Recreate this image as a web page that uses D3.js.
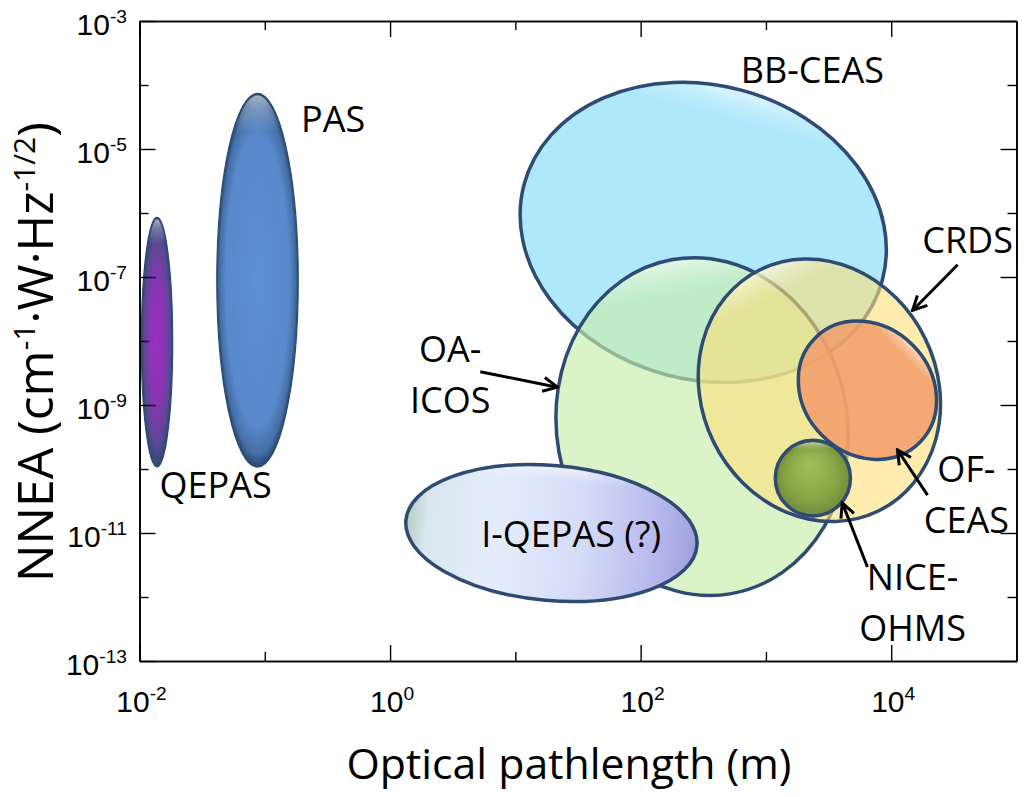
<!DOCTYPE html>
<html>
<head>
<meta charset="utf-8">
<script src="https://cdn.jsdelivr.net/npm/d3@7"></script>
<style>
body { margin: 0; background: #fff; }
svg { display: block; }
</style>
</head>
<body>
<svg id="chart" width="1024" height="797"></svg>
<script>
// techniques, back to front
var techniques = ["BB-CEAS", "OA-ICOS", "CRDS", "OF-CEAS", "NICE-OHMS", "I-QEPAS", "QEPAS", "PAS"];
// centre of each region: optical pathlength (m) and NNEA
var centerPath = [316, 309, 2670, 6460, 2370, 19.4, 0.0138, 0.0875];
var centerNNEA = [5.0e-7, 4.6e-10, 1.7e-9, 1.7e-9, 7.2e-11, 1.0e-11, 9.6e-9, 8.9e-8];
// half extent of each region, in decades
var halfDecadesPath = [1.48, 1.16, 0.94, 0.59, 0.30, 1.166, 0.125, 0.325];
var halfDecadesNNEA = [2.30, 2.65, 2.10, 1.00, 0.59, 1.055, 1.95, 2.92];
var tilt = [15, -10, -26, 45, 0, 5, 0, 0];

var xMajorTicks = [1e-2, 1e0, 1e2, 1e4];
var xMinorTicks = [1e-1, 1e1, 1e3];
var yMajorTicks = [1e-3, 1e-5, 1e-7, 1e-9, 1e-11, 1e-13];
var yMinorTicks = [1e-4, 1e-6, 1e-8, 1e-10, 1e-12];

// annotation text and anchor (data coordinates)
var labelLines = [["PAS"], ["QEPAS"], ["BB-CEAS"], ["CRDS"], ["OA-", "ICOS"], ["OF-", "CEAS"], ["NICE-", "OHMS"], ["I-QEPAS (?)"]];
var labelPath = [0.351, 0.0405, 2350, 40700, 3.02, 39800, 14800, 27.9];
var labelNNEA = [1.86e-5, 3.55e-11, 1.07e-4, 2.37e-7, 4.68e-9, 6.3e-11, 1.29e-12, 6.0e-12];

// arrows: from label to region
var arrowFromPath = [33900, 5.25, 19500, 6460];
var arrowFromNNEA = [1.55e-7, 3.3e-9, 3.9e-11, 2.95e-12];
var arrowToPath = [14800, 21.6, 11200, 4070];
var arrowToNNEA = [3.0e-8, 1.9e-9, 2.0e-10, 2.95e-11];

var W = 1024, H = 797;
var plot = {left: 139.5, right: 1016.5, top: 21, bottom: 661};

var x = d3.scaleLog().domain([1e-2, 1e5]).range([plot.left, plot.right]);
var y = d3.scaleLog().domain([1e-13, 1e-3]).range([plot.bottom, plot.top]);

var svg = d3.select("#chart");
var defs = svg.append("defs");

function radial(id, stops, fx, fy) {
    var g = defs.append("radialGradient").attr("id", id)
        .attr("cx", "50%").attr("cy", "50%").attr("r", "50%")
        .attr("fx", fx || "50%").attr("fy", fy || "50%");
    stops.forEach(function(s) {
        g.append("stop").attr("offset", s[0]).attr("stop-color", s[1]);
    });
}
function linear(id, stops, vertical) {
    var g = defs.append("linearGradient").attr("id", id)
        .attr("x1", 0).attr("y1", 0)
        .attr("x2", vertical ? 0 : 1).attr("y2", vertical ? 1 : 0);
    stops.forEach(function(s) {
        g.append("stop").attr("offset", s[0]).attr("stop-color", s[1])
            .attr("stop-opacity", s[2] === undefined ? 1 : s[2]);
    });
}

radial("pasGrad", [[0, "#5d90d4"], [0.78, "#5889cb"], [0.93, "#456fa6"], [1, "#27476e"]]);
radial("qepasGrad", [[0, "#9a2fc4"], [0.5, "#8735b2"], [0.82, "#5c4894"], [1, "#2a4a74"]]);
radial("niceGrad", [[0, "#a3bf5e"], [0.65, "#8aa747"], [1, "#718d3a"]], "45%", "30%");
linear("iqGrad", [[0, "#b3cbc0"], [0.07, "#d8e6ee"], [0.3, "#e5edfc"], [0.6, "#d5dcf8"], [0.85, "#b8baed"], [1, "#9ea0de"]]);
linear("shine", [[0, "#fff", 0.55], [0.04, "#fff", 0.25], [0.1, "#fff", 0]], true);

var style = {
    "BB-CEAS":   {fill: "#a4e5fb", opacity: 0.88, stroke: "#2e4c73", width: 3.5},
    "OA-ICOS":   {fill: "#c6eeaa", opacity: 0.65, stroke: "#2e4c73", width: 3.5},
    "CRDS":      {fill: "#fde07a", opacity: 0.6,  stroke: "#2e4c73", width: 3.5},
    "OF-CEAS":   {fill: "#f29c68", opacity: 0.85, stroke: "#2e4c73", width: 3.5},
    "NICE-OHMS": {fill: "url(#niceGrad)", opacity: 1, stroke: "#2e4c73", width: 3.5},
    "I-QEPAS":   {fill: "url(#iqGrad)", opacity: 1, stroke: "#2e4c73", width: 3.5},
    "QEPAS":     {fill: "url(#qepasGrad)", opacity: 1, stroke: "#2a4a72", width: 1.2},
    "PAS":       {fill: "url(#pasGrad)", opacity: 1, stroke: "#2a4a72", width: 1.2}
};

// regions
var regions = svg.append("g").attr("class", "regions");
techniques.forEach(function(name, i) {
    var cx = x(centerPath[i]);
    var cy = y(centerNNEA[i]);
    var rx = x(centerPath[i] * Math.pow(10, halfDecadesPath[i])) - cx;
    var ry = cy - y(centerNNEA[i] * Math.pow(10, halfDecadesNNEA[i]));
    var s = style[name];
    var g = regions.append("g")
        .attr("transform", "translate(" + cx + "," + cy + ") rotate(" + tilt[i] + ")");
    g.append("ellipse")
        .attr("rx", rx).attr("ry", ry)
        .attr("fill", s.fill).attr("fill-opacity", s.opacity);
    g.append("ellipse")
        .attr("rx", rx - 2).attr("ry", ry - 2)
        .attr("fill", "url(#shine)");
    g.append("ellipse")
        .attr("rx", rx).attr("ry", ry)
        .attr("fill", "none")
        .attr("stroke", s.stroke).attr("stroke-width", s.width);
});

// axes: ticks point inwards on all four sides
function frameAxis(axis, transform) {
    svg.append("g").attr("transform", transform)
        .call(axis)
        .call(function(g) {
            g.selectAll("path.domain").attr("stroke", "#000").attr("stroke-width", 1.6);
            g.selectAll("line").attr("stroke", "#000").attr("stroke-width", 1.4);
        });
}
frameAxis(d3.axisBottom(x).tickValues(xMajorTicks).tickSizeInner(-16).tickSizeOuter(0).tickFormat(""), "translate(0," + plot.bottom + ")");
frameAxis(d3.axisBottom(x).tickValues(xMinorTicks).tickSizeInner(-9).tickSizeOuter(0).tickFormat(""), "translate(0," + plot.bottom + ")");
frameAxis(d3.axisTop(x).tickValues(xMajorTicks).tickSizeInner(-16).tickSizeOuter(0).tickFormat(""), "translate(0," + plot.top + ")");
frameAxis(d3.axisTop(x).tickValues(xMinorTicks).tickSizeInner(-9).tickSizeOuter(0).tickFormat(""), "translate(0," + plot.top + ")");
frameAxis(d3.axisLeft(y).tickValues(yMajorTicks).tickSizeInner(-16).tickSizeOuter(0).tickFormat(""), "translate(" + plot.left + ",0)");
frameAxis(d3.axisLeft(y).tickValues(yMinorTicks).tickSizeInner(-9).tickSizeOuter(0).tickFormat(""), "translate(" + plot.left + ",0)");
frameAxis(d3.axisRight(y).tickValues(yMajorTicks).tickSizeInner(-16).tickSizeOuter(0).tickFormat(""), "translate(" + plot.right + ",0)");
frameAxis(d3.axisRight(y).tickValues(yMinorTicks).tickSizeInner(-9).tickSizeOuter(0).tickFormat(""), "translate(" + plot.right + ",0)");

// tick labels as 10 with a superscript exponent
function powerLabel(g, v) {
    var e = Math.round(Math.log10(v));
    g.append("tspan").text("10");
    g.append("tspan").attr("font-size", "0.64em").attr("dy", "-0.6em").text(e);
}
var tickFont = "'Liberation Sans', Arial, sans-serif";
xMajorTicks.forEach(function(v) {
    var t = svg.append("text")
        .attr("x", x(v) + 2).attr("y", plot.bottom + 51)
        .attr("text-anchor", "middle")
        .attr("font-family", tickFont).attr("font-size", 30);
    powerLabel(t, v);
});
yMajorTicks.forEach(function(v) {
    var t = svg.append("text")
        .attr("x", 127).attr("y", y(v) + 14)
        .attr("text-anchor", "end")
        .attr("font-family", tickFont).attr("font-size", 30);
    powerLabel(t, v);
});

var labelFont = "'Open Sans', sans-serif";

function fitWidth(t, width) {
    var w = t.node().getComputedTextLength();
    var fs = parseFloat(t.attr("font-size"));
    t.attr("font-size", fs * width / w);
}

// axis titles
var xTitle = svg.append("text")
    .attr("x", 569).attr("y", 779)
    .attr("text-anchor", "middle")
    .attr("font-family", labelFont).attr("font-size", 42)
    .text("Optical pathlength (m)");
fitWidth(xTitle, 445);

var yTitle = svg.append("text")
    .attr("transform", "translate(53,352) rotate(-90)")
    .attr("text-anchor", "middle")
    .attr("font-family", labelFont).attr("font-size", 42);
yTitle.append("tspan").text("NNEA (cm");
yTitle.append("tspan").attr("font-size", "0.6em").attr("dy", "-0.6em").text("-1");
yTitle.append("tspan").attr("dy", "0.36em").text("\u00B7W\u00B7Hz");
yTitle.append("tspan").attr("font-size", "0.6em").attr("dy", "-0.6em").text("-1/2");
yTitle.append("tspan").attr("dy", "0.36em").text(")");
fitWidth(yTitle, 460);

// annotations
labelLines.forEach(function(lines, i) {
    var t = svg.append("text")
        .attr("x", x(labelPath[i])).attr("y", y(labelNNEA[i]))
        .attr("text-anchor", "middle")
        .attr("font-family", labelFont).attr("font-size", 36)
        .attr("fill", "#000");
    lines.forEach(function(line, k) {
        t.append("tspan")
            .attr("x", x(labelPath[i]))
            .attr("dy", k === 0 ? 0 : 51)
            .text(line);
    });
});

defs.append("marker").attr("id", "head")
    .attr("markerUnits", "userSpaceOnUse")
    .attr("viewBox", "0 0 18 18")
    .attr("markerWidth", 18).attr("markerHeight", 18)
    .attr("refX", 16).attr("refY", 9)
    .attr("orient", "auto")
    .append("path")
    .attr("d", "M2,2 L16,9 L2,16")
    .attr("fill", "none").attr("stroke", "#000").attr("stroke-width", 3);

arrowFromPath.forEach(function(v, i) {
    svg.append("line")
        .attr("x1", x(v)).attr("y1", y(arrowFromNNEA[i]))
        .attr("x2", x(arrowToPath[i])).attr("y2", y(arrowToNNEA[i]))
        .attr("stroke", "#000").attr("stroke-width", 3)
        .attr("marker-end", "url(#head)");
});
</script>
</body>
</html>
